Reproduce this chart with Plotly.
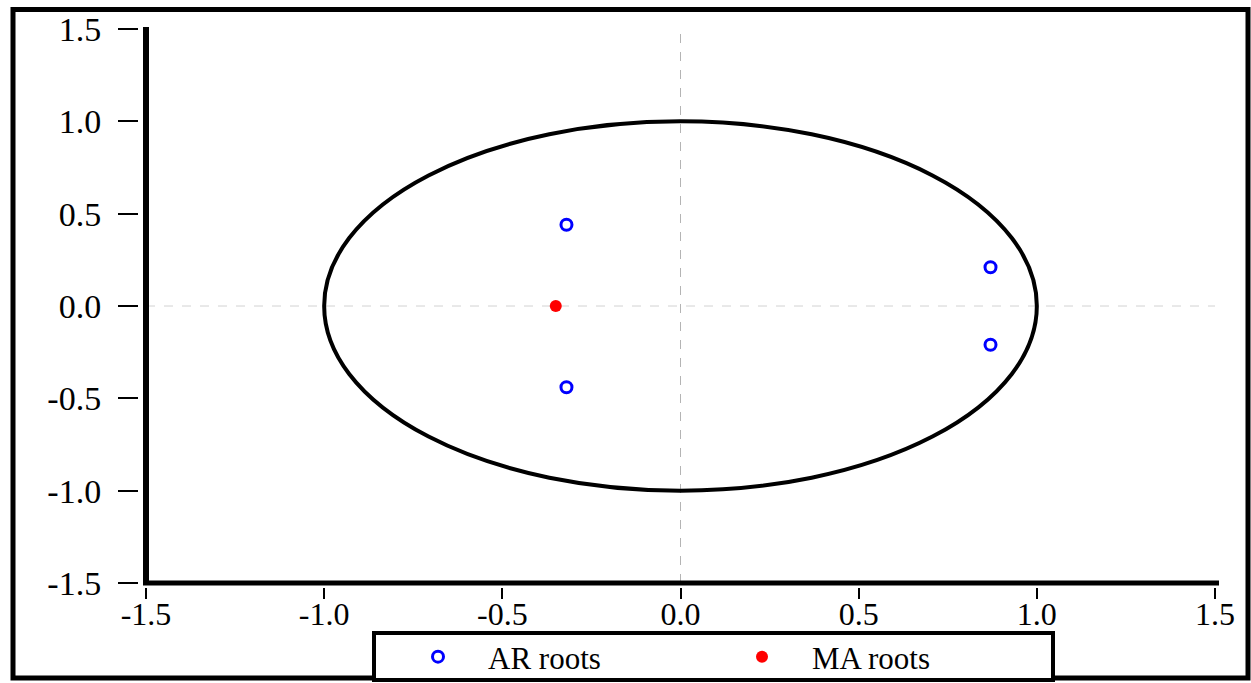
import plotly.graph_objects as go

# Inverse roots of the fitted ARMA model
ar_re = [-0.32, -0.32, 0.87, 0.87]
ar_im = [0.44, -0.44, 0.21, -0.21]
ma_re = [-0.35]
ma_im = [0.0]

tick_vals = [-1.5, -1.0, -0.5, 0.0, 0.5, 1.0, 1.5]
tick_text = ["-1.5", "-1.0", "-0.5", "0.0", "0.5", "1.0", "1.5"]

W, H = 1251, 683
FONT = "Liberation Serif"


def px(p):
    return p / W


def py(p):
    return 1 - p / H


fig = go.Figure()

fig.add_trace(go.Scatter(
    x=ar_re, y=ar_im, mode="markers", name="AR roots",
    marker=dict(symbol="circle-open", size=11, color="#0000ff",
                line=dict(width=3, color="#0000ff")),
))
fig.add_trace(go.Scatter(
    x=ma_re, y=ma_im, mode="markers", name="MA roots",
    marker=dict(symbol="circle", size=12, color="#ff0000"),
))

shapes = [
    # dashed reference lines through the origin
    dict(type="line", xref="x", yref="y", x0=0, x1=0, y0=-1.5, y1=1.5,
         line=dict(color="#b4b4b4", width=1, dash="dash"), layer="below"),
    dict(type="line", xref="x", yref="y", x0=-1.5, x1=1.5, y0=0, y1=0,
         line=dict(color="#d2d2d2", width=1, dash="dash"), layer="below"),
    # unit circle
    dict(type="circle", xref="x", yref="y", x0=-1, x1=1, y0=-1, y1=1,
         line=dict(color="black", width=4)),
    # axis lines
    dict(type="line", xref="paper", yref="paper", x0=px(146), x1=px(146),
         y0=py(585), y1=py(27), line=dict(color="black", width=6)),
    dict(type="line", xref="paper", yref="paper", x0=px(143), x1=px(1219),
         y0=py(583), y1=py(583), line=dict(color="black", width=5)),
    # outer frame
    dict(type="rect", xref="paper", yref="paper", x0=px(13), x1=px(1248),
         y0=py(678), y1=py(9.5), line=dict(color="black", width=5)),
    # legend box
    dict(type="rect", xref="paper", yref="paper", x0=px(374), x1=px(1053),
         y0=py(680), y1=py(633), line=dict(color="black", width=4),
         fillcolor="white"),
]

axis_font = dict(family=FONT, size=34, color="black")

fig.update_layout(
    width=W, height=H,
    margin=dict(l=0, r=0, t=0, b=0, autoexpand=False),
    paper_bgcolor="white", plot_bgcolor="white",
    shapes=shapes,
    xaxis=dict(
        domain=[px(146), px(1215)], range=[-1.5, 1.5],
        anchor="free", position=py(587), automargin=False,
        tickmode="array", tickvals=tick_vals, ticktext=tick_text,
        ticks="outside", ticklen=11, tickwidth=1.5, tickcolor="black",
        ticklabelstandoff=-12,
        showline=False, showgrid=False, zeroline=False,
        tickfont=dict(family=FONT, size=32, color="black"),
    ),
    yaxis=dict(
        domain=[py(583), py(29)], range=[-1.5, 1.5],
        anchor="free", position=px(138), automargin=False,
        tickmode="array", tickvals=tick_vals, ticktext=tick_text,
        ticks="outside", ticklen=20, tickwidth=1.5, tickcolor="black",
        ticklabelstandoff=10,
        showline=False, showgrid=False, zeroline=False,
        tickfont=axis_font,
    ),
    legend=dict(
        orientation="h", xanchor="left", x=px(388),
        yanchor="middle", y=py(657),
        borderwidth=0, bgcolor="rgba(0,0,0,0)",
        font=dict(family=FONT, size=31, color="black"),
        entrywidth=219, itemwidth=90,
    ),
    showlegend=True,
)

fig.write_html("out.html")
